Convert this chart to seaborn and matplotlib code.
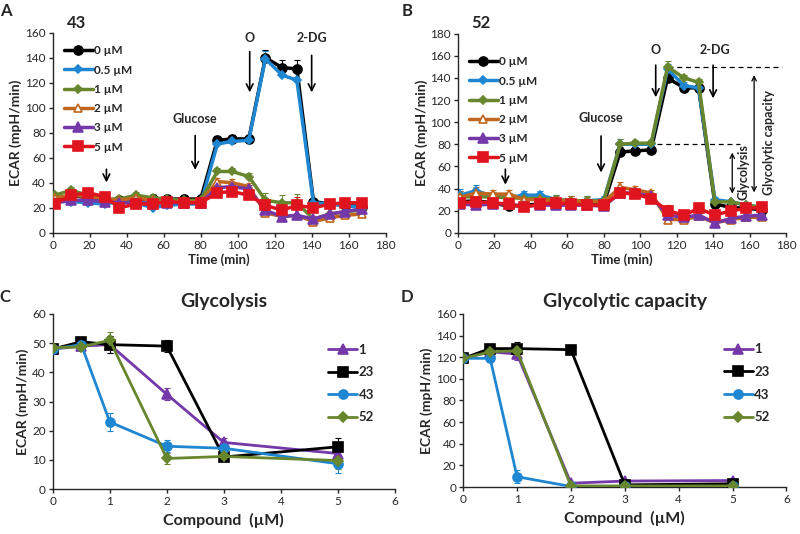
import numpy as np
import matplotlib
matplotlib.use("Agg")
import matplotlib.pyplot as plt
import seaborn as sns

# ---------------- data ----------------
time_min = [1, 10, 19, 28, 36, 45, 54, 62, 71, 80, 89, 97, 106, 115, 124, 132, 141, 150, 158, 167]
dose_labels = ["0 µM", "0.5 µM", "1 µM", "2 µM", "3 µM", "5 µM"]

# Panel A (compound 43)
a_0uM  = [27, 30, 28, 27, 26, 27, 27, 27, 27, 27, 74, 75, 75, 140, 132, 131, 25, 23, 22, 21]
a_05uM = [25, 25, 24, 23, 25, 24, 20, 22, 23, 23, 71, 73, 74, 139, 126, 122, 24, 23, 22, 20]
a_1uM  = [30, 34, 30, 27, 27, 30, 28, 27, 26, 26, 49, 49, 45, 26, 24, 24, 11, 15, 17, 18]
a_2uM  = [28, 30, 29, 27, 26, 28, 26, 25, 25, 25, 41, 40, 37, 16, 13, 14, 9, 12, 14, 15]
a_3uM  = [24, 26, 26, 25, 24, 24, 24, 24, 24, 24, 36, 37, 35, 18, 13, 14, 11, 15, 17, 19]
a_5uM  = [23, 30, 32, 29, 20, 23, 23, 25, 24, 24, 32, 33, 30, 22, 18, 22, 20, 23, 24, 24]
a_err  = [2, 3, 4, 3, 2, 3, 3, 3, 3, 3, 3, 3, 3, 6, 6, 7, 2, 2, 2, 2]

# Panel B (compound 52)
b_0uM  = [28, 29, 27, 24, 25, 26, 26, 26, 26, 26, 73, 74, 75, 140, 131, 131, 26, 23, 22, 21]
b_05uM = [34, 38, 33, 32, 34, 34, 30, 29, 29, 30, 80, 80, 80, 148, 133, 131, 30, 28, 25, 23]
b_1uM  = [32, 33, 32, 32, 31, 31, 30, 29, 29, 29, 80, 81, 81, 150, 140, 136, 28, 28, 25, 23]
b_2uM  = [32, 36, 35, 35, 30, 30, 29, 29, 28, 28, 41, 39, 36, 12, 12, 15, 9, 12, 14, 14]
b_3uM  = [26, 25, 26, 26, 24, 25, 25, 25, 25, 24, 36, 36, 33, 16, 14, 16, 9, 13, 15, 16]
b_5uM  = [27, 28, 27, 26, 23, 26, 27, 26, 25, 25, 36, 35, 31, 20, 16, 22, 16, 20, 22, 23]
b_err  = [6, 5, 4, 4, 4, 4, 4, 4, 4, 3, 5, 3, 3, 5, 3, 3, 2, 2, 2, 2]

# Panels C and D
conc = [0, 0.5, 1, 2, 3, 5]
compound_labels = ["1", "23", "43", "52"]
glyc_1  = [48.0, 49.0, 49.5, 32.5, 16.0, 12.2]
glyc_23 = [48.0, 50.5, 49.5, 49.0, 11.0, 14.5]
glyc_43 = [48.0, 49.5, 23.0, 14.7, 14.0, 8.7]
glyc_52 = [48.5, 48.7, 51.0, 10.5, 11.2, 9.8]
glyc_err = [1.0, 1.5, 3.0, 2.0, 1.5, 3.0]

cap_1  = [119, 125, 123, 3.5, 5.5, 6.0]
cap_23 = [119, 128, 128, 127, 2.0, 3.0]
cap_43 = [119, 119, 9.5, 0.5, 0.5, 0.5]
cap_52 = [119, 125, 126, 1.0, 1.0, 1.0]
cap_err = [2, 3, 6, 1, 1, 1]

# ---------------- style ----------------
sns.set_theme(style="ticks")
plt.rcParams["font.family"] = ["Lato", "DejaVu Sans"]
plt.rcParams["axes.linewidth"] = 1.0
plt.rcParams["xtick.labelsize"] = 8.5
plt.rcParams["ytick.labelsize"] = 8.5
plt.rcParams["xtick.major.size"] = 3
plt.rcParams["ytick.major.size"] = 3

BLACK = "#000000"
BLUE = "#1F86D2"
GREEN = "#68862E"
ORANGE = "#C0661E"
PURPLE = "#7538A8"
RED = "#E0141E"

dose_styles = [
    dict(color=BLACK, marker="o", ms=6.5, mfc=BLACK),
    dict(color=BLUE, marker="D", ms=4, mfc=BLUE),
    dict(color=GREEN, marker="D", ms=4, mfc=GREEN),
    dict(color=ORANGE, marker="^", ms=6, mfc="white"),
    dict(color=PURPLE, marker="^", ms=6.5, mfc=PURPLE),
    dict(color=RED, marker="s", ms=7, mfc=RED),
]

fig = plt.figure(figsize=(8, 5.34), dpi=100)


def draw(ax, x, y, err, st, label, upper_only=True, lw=2.5):
    x = np.asarray(x, float)
    y = np.asarray(y, float)
    e = np.asarray(err, float)
    yerr = [np.zeros_like(e), e] if upper_only else [e, e]
    ax.errorbar(x, y, yerr=yerr, fmt="none", ecolor=st["color"],
                elinewidth=0.8, capsize=2, capthick=0.8, zorder=2)
    sns.lineplot(x=x, y=y, ax=ax, color=st["color"], marker=st["marker"],
                 markersize=st["ms"], markerfacecolor=st["mfc"],
                 markeredgecolor=st["color"], markeredgewidth=1.2,
                 linewidth=lw, label=label, zorder=3, sort=False)


def style_axes(ax):
    sns.despine(ax=ax)
    ax.tick_params(axis="both", direction="out", length=3, width=1, pad=2)


# ---------------- Panel A ----------------
axA = fig.add_axes([0.066, 0.564, 0.416, 0.375])
series_a = [a_0uM, a_05uM, a_1uM, a_2uM, a_3uM, a_5uM]
for s, st, lab in zip(series_a, dose_styles, dose_labels):
    draw(axA, time_min, s, a_err, st, lab)
axA.set_xlim(0, 180)
axA.set_ylim(0, 160)
axA.set_xticks(range(0, 181, 20))
axA.set_yticks(range(0, 161, 20))
axA.set_xlabel("Time (min)", fontsize=9.5, fontweight="bold", labelpad=2)
axA.set_ylabel("ECAR (mpH/min)", fontsize=10, fontweight="bold", labelpad=2)
style_axes(axA)
axA.legend(loc="upper left", bbox_to_anchor=(0.02, 0.96), frameon=False,
           prop=dict(size=8.5, weight="bold"), handlelength=2.4, handletextpad=0.1,
           labelspacing=0.7, borderaxespad=0)
arrow = dict(arrowstyle="->", color="black", lw=1.2, mutation_scale=12)
axA.annotate("", xy=(29, 38), xytext=(29, 53), arrowprops=arrow)
axA.annotate("", xy=(77, 48), xytext=(77, 80), arrowprops=arrow)
axA.text(77, 86, "Glucose", ha="center", va="bottom", fontsize=9, fontweight="bold")
axA.annotate("", xy=(106.5, 110), xytext=(106.5, 147), arrowprops=arrow)
axA.text(106.5, 151, "O", ha="center", va="bottom", fontsize=9, fontweight="bold")
axA.annotate("", xy=(140, 110), xytext=(140, 144), arrowprops=arrow)
axA.text(140, 151, "2-DG", ha="center", va="bottom", fontsize=9, fontweight="bold")
fig.text(77 / 800, 1 - 23 / 534, "43", fontsize=12, fontweight="bold", ha="center", va="center")
fig.text(6 / 800, 1 - 11 / 534, "A", fontsize=12, fontweight="bold", ha="center", va="center")

# ---------------- Panel B ----------------
axB = fig.add_axes([0.5725, 0.564, 0.41, 0.373])
series_b = [b_0uM, b_05uM, b_1uM, b_2uM, b_3uM, b_5uM]
for s, st, lab in zip(series_b, dose_styles, dose_labels):
    draw(axB, time_min, s, b_err, st, lab)
axB.set_xlim(0, 180)
axB.set_ylim(0, 180)
axB.set_xticks(range(0, 181, 20))
axB.set_yticks(range(0, 181, 20))
axB.set_xlabel("Time (min)", fontsize=9.5, fontweight="bold", labelpad=2)
axB.set_ylabel("ECAR (mpH/min)", fontsize=10, fontweight="bold", labelpad=2)
style_axes(axB)
axB.legend(loc="upper left", bbox_to_anchor=(0.02, 0.91), frameon=False,
           prop=dict(size=8.5, weight="bold"), handlelength=2.4, handletextpad=0.1,
           labelspacing=0.7, borderaxespad=0)
axB.annotate("", xy=(26, 41), xytext=(26, 60), arrowprops=arrow)
axB.annotate("", xy=(78.5, 52), xytext=(78.5, 90), arrowprops=arrow)
axB.text(78.5, 98, "Glucose", ha="center", va="bottom", fontsize=9, fontweight="bold")
axB.annotate("", xy=(108.5, 120), xytext=(108.5, 154), arrowprops=arrow)
axB.text(108.5, 160, "O", ha="center", va="bottom", fontsize=9, fontweight="bold")
axB.annotate("", xy=(140, 119), xytext=(140, 154), arrowprops=arrow)
axB.text(141, 160, "2-DG", ha="center", va="bottom", fontsize=9, fontweight="bold")
axB.plot([115, 178], [150, 150], ls=(0, (4, 3)), color="black", lw=0.9)
axB.plot([109, 155], [80, 80], ls=(0, (4, 3)), color="black", lw=0.9)
darrow = dict(arrowstyle="<->", color="black", lw=0.9, mutation_scale=8)
axB.annotate("", xy=(150.5, 33), xytext=(150.5, 75), arrowprops=darrow)
axB.annotate("", xy=(162.5, 34), xytext=(162.5, 145), arrowprops=darrow)
axB.text(156.5, 55, "Glycolysis", rotation=90, ha="center", va="center", fontsize=9, fontweight="bold")
axB.text(170.5, 82, "Glycolytic capacity", rotation=90, ha="center", va="center", fontsize=9, fontweight="bold")
fig.text(481 / 800, 1 - 23 / 534, "52", fontsize=12, fontweight="bold", ha="center", va="center")
fig.text(407 / 800, 1 - 11 / 534, "B", fontsize=12, fontweight="bold", ha="center", va="center")

# ---------------- Panels C and D ----------------
cmp_styles = [
    dict(color=PURPLE, marker="^", ms=6.5, mfc=PURPLE),
    dict(color=BLACK, marker="s", ms=6.5, mfc=BLACK),
    dict(color=BLUE, marker="o", ms=6.5, mfc=BLUE),
    dict(color=GREEN, marker="D", ms=5, mfc=GREEN),
]

axC = fig.add_axes([0.066, 0.084, 0.4275, 0.328])
for s, st, lab in zip([glyc_1, glyc_23, glyc_43, glyc_52], cmp_styles, compound_labels):
    draw(axC, conc, s, glyc_err, st, lab, upper_only=False, lw=2.0)
axC.set_xlim(0, 6)
axC.set_ylim(0, 60)
axC.set_xticks(range(0, 7))
axC.set_yticks(range(0, 61, 10))
axC.set_xlabel("Compound  (µM)", fontsize=11.5, fontweight="bold", labelpad=4)
axC.set_ylabel("ECAR (mpH/min)", fontsize=10, fontweight="bold", labelpad=2)
axC.set_title("Glycolysis", fontsize=14, fontweight="bold", pad=5)
style_axes(axC)
axC.legend(loc="upper left", bbox_to_anchor=(0.79, 0.86), frameon=False,
           prop=dict(size=9.5, weight="bold"), handlelength=2.2, handletextpad=0.1,
           labelspacing=0.8, borderaxespad=0)
fig.text(5 / 800, 1 - 297 / 534, "C", fontsize=12, fontweight="bold", ha="center", va="center")

axD = fig.add_axes([0.579, 0.088, 0.404, 0.324])
for s, st, lab in zip([cap_1, cap_23, cap_43, cap_52], cmp_styles, compound_labels):
    draw(axD, conc, s, cap_err, st, lab, upper_only=False, lw=2.0)
axD.set_xlim(0, 6)
axD.set_ylim(0, 160)
axD.set_xticks(range(0, 7))
axD.set_yticks(range(0, 161, 20))
axD.set_xlabel("Compound  (µM)", fontsize=11.5, fontweight="bold", labelpad=4)
axD.set_ylabel("ECAR (mpH/min)", fontsize=10, fontweight="bold", labelpad=2)
axD.set_title("Glycolytic capacity", fontsize=14, fontweight="bold", pad=5)
style_axes(axD)
axD.legend(loc="upper left", bbox_to_anchor=(0.79, 0.86), frameon=False,
           prop=dict(size=9.5, weight="bold"), handlelength=2.2, handletextpad=0.1,
           labelspacing=0.8, borderaxespad=0)
fig.text(407 / 800, 1 - 297 / 534, "D", fontsize=12, fontweight="bold", ha="center", va="center")

fig.savefig("out.png", dpi=100)
